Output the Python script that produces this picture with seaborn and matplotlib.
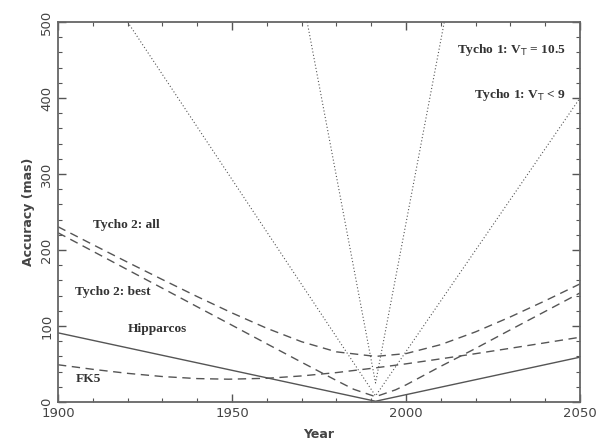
import matplotlib
matplotlib.use('Agg')
import matplotlib.pyplot as plt
import seaborn as sns
from matplotlib.ticker import MultipleLocator

# accuracy (mas) vs epoch
tycho1_105_years = [1971.6, 1991.25, 2011.0]
tycho1_105_acc = [500, 25, 500]

tycho1_9_years = [1920.0, 1991.25, 2050.0]
tycho1_9_acc = [500, 8, 400]

tycho2_all_years = [1900, 1910, 1920, 1930, 1940, 1950, 1960, 1970, 1980,
                    1991.25, 2000, 2010, 2020, 2030, 2040, 2050]
tycho2_all_acc = [230.6, 207.1, 183.9, 161.1, 138.7, 117.2, 97.0, 79.3, 66.0,
                  60.0, 63.7, 75.5, 92.3, 112.0, 133.2, 155.4]

tycho2_best_years = [1900, 1910, 1920, 1930, 1940, 1950, 1960, 1970, 1980,
                     1985, 1991.25, 1997, 2000, 2010, 2020, 2030, 2040, 2050]
tycho2_best_acc = [222.7, 198.4, 174.0, 149.7, 125.3, 101.0, 76.6, 52.3, 28.3,
                   16.7, 7.0, 16.0, 22.5, 47.0, 70.5, 95.0, 119.2, 143.5]

fk5_years = [1900, 1910, 1920, 1930, 1940, 1949, 1960, 1970, 1980, 1990,
             2000, 2010, 2020, 2030, 2040, 2050]
fk5_acc = [49.0, 43.0, 37.7, 33.5, 30.8, 30.0, 31.2, 34.3, 38.7, 44.2,
           50.2, 56.8, 63.6, 70.7, 77.9, 85.2]

hip_years = [1900, 1991.25, 2050]
hip_acc = [91, 1, 59]

line_clr = '#555555'
dotted = (0, (1, 2))
dashed = (0, (6, 4))


def main():
    sns.set_style('ticks')
    fig, ax = plt.subplots(figsize=(5.98, 4.41), dpi=100)
    fig.subplots_adjust(left=58 / 598, right=580 / 598,
                        bottom=1 - 402 / 441, top=1 - 22 / 441)

    sns.lineplot(x=tycho1_105_years, y=tycho1_105_acc, ax=ax, color=line_clr,
                 linestyle=dotted, linewidth=0.8, sort=False)
    sns.lineplot(x=tycho1_9_years, y=tycho1_9_acc, ax=ax, color=line_clr,
                 linestyle=dotted, linewidth=0.8, sort=False)
    sns.lineplot(x=tycho2_all_years, y=tycho2_all_acc, ax=ax, color=line_clr,
                 linestyle=dashed, linewidth=1.0, sort=False)
    sns.lineplot(x=tycho2_best_years, y=tycho2_best_acc, ax=ax, color=line_clr,
                 linestyle=dashed, linewidth=1.0, sort=False)
    sns.lineplot(x=fk5_years, y=fk5_acc, ax=ax, color=line_clr,
                 linestyle=dashed, linewidth=1.0, sort=False)
    sns.lineplot(x=hip_years, y=hip_acc, ax=ax, color=line_clr,
                 linestyle='-', linewidth=1.0, sort=False)

    ax.set_xlim(1900, 2050)
    ax.set_ylim(0, 500)
    ax.xaxis.set_major_locator(MultipleLocator(50))
    ax.xaxis.set_minor_locator(MultipleLocator(10))
    ax.yaxis.set_major_locator(MultipleLocator(100))
    ax.yaxis.set_minor_locator(MultipleLocator(20))
    ax.tick_params(which='both', direction='in', top=True, right=True,
                   colors='#555555', labelcolor='#444444', labelsize=9.5)
    ax.tick_params(which='major', length=6, width=1.0)
    ax.tick_params(which='minor', length=3, width=0.8)
    for lbl in ax.get_yticklabels():
        lbl.set_rotation(90)
        lbl.set_va('center')
    for sp in ax.spines.values():
        sp.set_visible(True)
        sp.set_color('#666666')
        sp.set_linewidth(1.3)

    ax.set_xlabel('Year', fontsize=9, color='#444444', fontweight='bold',
                  labelpad=6)
    ax.set_ylabel('Accuracy (mas)', fontsize=9, color='#444444',
                  fontweight='bold', labelpad=4)

    txt = dict(family='Liberation Serif', fontsize=9.6, color='#333333',
               fontweight='bold')
    ax.text(2046, 463, 'Tycho 1: V$_{\\rm T}$ = 10.5', ha='right', va='center', **txt)
    ax.text(2046, 404, 'Tycho 1: V$_{\\rm T}$ < 9', ha='right', va='center', **txt)
    ax.text(1910, 233, 'Tycho 2: all', ha='left', va='center', **txt)
    ax.text(1905, 145, 'Tycho 2: best', ha='left', va='center', **txt)
    ax.text(1920, 96, 'Hipparcos', ha='left', va='center', **txt)
    ax.text(1905, 30, 'FK5', ha='left', va='center', **txt)

    plt.savefig('out.png', dpi=100)


if __name__ == '__main__':
    main()
